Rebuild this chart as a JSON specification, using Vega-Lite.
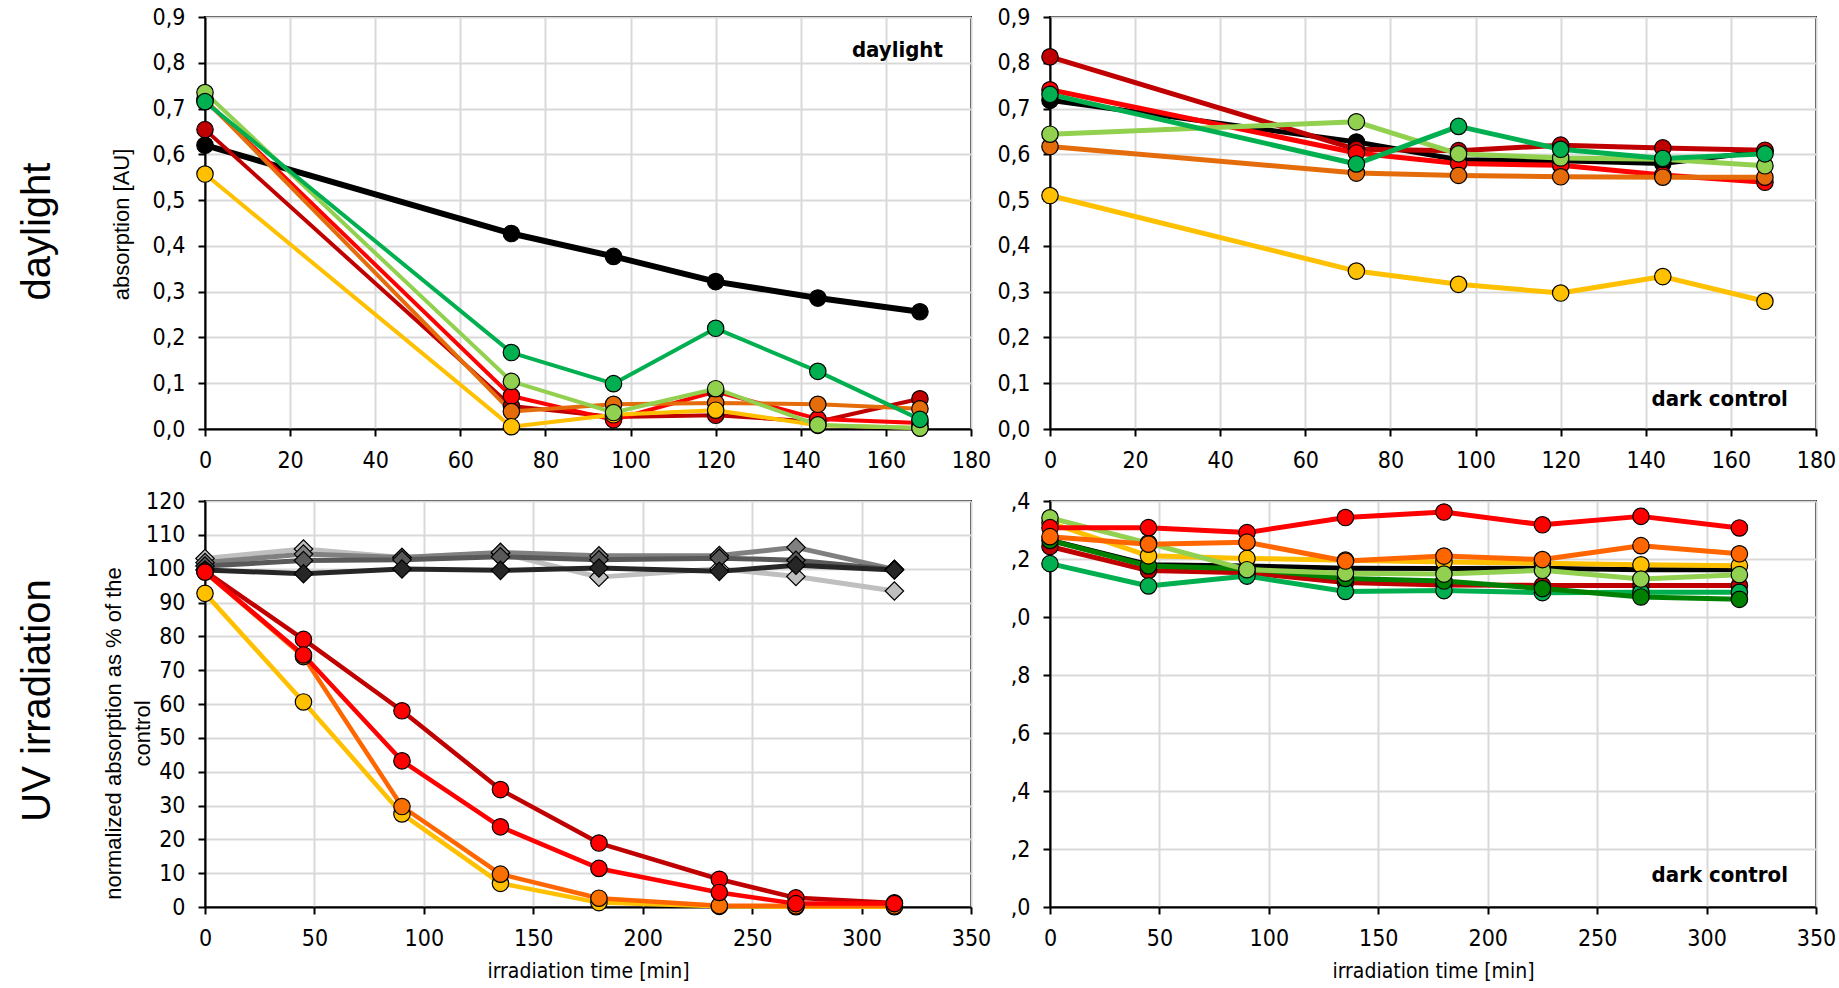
{
  "$schema": "https://vega.github.io/schema/vega-lite/v6.json",
  "background": "white",
  "padding": {"left": 15, "top": 5, "right": 5, "bottom": 5},
  "bounds": "flush",
  "align": "each",
  "columns": 2,
  "spacing": {"row": 72, "column": 79},
  "resolve": {"scale": {"color": "independent", "fill": "independent", "stroke": "independent", "strokeWidth": "independent"}},
  "config": {
    "view": {"stroke": "black", "strokeWidth": 2},
    "axis": {
      "labelFont": "DejaVu Sans Condensed, sans-serif",
      "labelFontSize": 23,
      "labelColor": "black",
      "labelPadding": 13,
      "labelOverlap": false,
      "labelFlush": false,
      "titleFont": "Liberation Sans, Arial, sans-serif",
      "titleFontWeight": "normal",
      "titleColor": "black",
      "domainColor": "black",
      "domainWidth": 2,
      "tickColor": "black",
      "tickWidth": 2,
      "tickSize": 7,
      "gridColor": "#D9D9D9",
      "gridWidth": 2
    }
  },
  "datasets": {
    "tl": [
      {"s": "A", "t": 0, "v": 0.620}, {"s": "A", "t": 72, "v": 0.427}, {"s": "A", "t": 96, "v": 0.377}, {"s": "A", "t": 120, "v": 0.322}, {"s": "A", "t": 144, "v": 0.286}, {"s": "A", "t": 168, "v": 0.256},
      {"s": "B", "t": 0, "v": 0.654}, {"s": "B", "t": 72, "v": 0.050}, {"s": "B", "t": 96, "v": 0.026}, {"s": "B", "t": 120, "v": 0.030}, {"s": "B", "t": 144, "v": 0.016}, {"s": "B", "t": 168, "v": 0.066},
      {"s": "C", "t": 0, "v": 0.718}, {"s": "C", "t": 72, "v": 0.072}, {"s": "C", "t": 96, "v": 0.020}, {"s": "C", "t": 120, "v": 0.082}, {"s": "C", "t": 144, "v": 0.022}, {"s": "C", "t": 168, "v": 0.013},
      {"s": "D", "t": 0, "v": 0.720}, {"s": "D", "t": 72, "v": 0.038}, {"s": "D", "t": 96, "v": 0.054}, {"s": "D", "t": 120, "v": 0.057}, {"s": "D", "t": 144, "v": 0.054}, {"s": "D", "t": 168, "v": 0.044},
      {"s": "E", "t": 0, "v": 0.557}, {"s": "E", "t": 72, "v": 0.005}, {"s": "E", "t": 96, "v": 0.031}, {"s": "E", "t": 120, "v": 0.041}, {"s": "E", "t": 144, "v": 0.008}, {"s": "E", "t": 168, "v": 0.002},
      {"s": "F", "t": 0, "v": 0.735}, {"s": "F", "t": 72, "v": 0.104}, {"s": "F", "t": 96, "v": 0.036}, {"s": "F", "t": 120, "v": 0.088}, {"s": "F", "t": 144, "v": 0.009}, {"s": "F", "t": 168, "v": 0.002},
      {"s": "G", "t": 0, "v": 0.715}, {"s": "G", "t": 72, "v": 0.167}, {"s": "G", "t": 96, "v": 0.099}, {"s": "G", "t": 120, "v": 0.220}, {"s": "G", "t": 144, "v": 0.126}, {"s": "G", "t": 168, "v": 0.021}
    ],
    "tr": [
      {"s": "A", "t": 0, "v": 0.718}, {"s": "A", "t": 72, "v": 0.627}, {"s": "A", "t": 96, "v": 0.588}, {"s": "A", "t": 120, "v": 0.586}, {"s": "A", "t": 144, "v": 0.580}, {"s": "A", "t": 168, "v": 0.607},
      {"s": "B", "t": 0, "v": 0.813}, {"s": "B", "t": 72, "v": 0.611}, {"s": "B", "t": 96, "v": 0.608}, {"s": "B", "t": 120, "v": 0.620}, {"s": "B", "t": 144, "v": 0.614}, {"s": "B", "t": 168, "v": 0.609},
      {"s": "C", "t": 0, "v": 0.741}, {"s": "C", "t": 72, "v": 0.603}, {"s": "C", "t": 96, "v": 0.580}, {"s": "C", "t": 120, "v": 0.576}, {"s": "C", "t": 144, "v": 0.555}, {"s": "C", "t": 168, "v": 0.539},
      {"s": "D", "t": 0, "v": 0.617}, {"s": "D", "t": 72, "v": 0.559}, {"s": "D", "t": 96, "v": 0.554}, {"s": "D", "t": 120, "v": 0.551}, {"s": "D", "t": 144, "v": 0.550}, {"s": "D", "t": 168, "v": 0.550},
      {"s": "E", "t": 0, "v": 0.510}, {"s": "E", "t": 72, "v": 0.345}, {"s": "E", "t": 96, "v": 0.316}, {"s": "E", "t": 120, "v": 0.297}, {"s": "E", "t": 144, "v": 0.333}, {"s": "E", "t": 168, "v": 0.279},
      {"s": "F", "t": 0, "v": 0.644}, {"s": "F", "t": 72, "v": 0.671}, {"s": "F", "t": 96, "v": 0.601}, {"s": "F", "t": 120, "v": 0.592}, {"s": "F", "t": 144, "v": 0.589}, {"s": "F", "t": 168, "v": 0.575},
      {"s": "G", "t": 0, "v": 0.731}, {"s": "G", "t": 72, "v": 0.579}, {"s": "G", "t": 96, "v": 0.661}, {"s": "G", "t": 120, "v": 0.611}, {"s": "G", "t": 144, "v": 0.591}, {"s": "G", "t": 168, "v": 0.601}
    ],
    "blc": [
      {"s": "E", "t": 0, "v": 92.7}, {"s": "E", "t": 45, "v": 60.6}, {"s": "E", "t": 90, "v": 27.5}, {"s": "E", "t": 135, "v": 7.0}, {"s": "E", "t": 180, "v": 1.3}, {"s": "E", "t": 235, "v": 0.2}, {"s": "E", "t": 270, "v": 0.1}, {"s": "E", "t": 315, "v": 0.1},
      {"s": "D", "t": 0, "v": 99.0}, {"s": "D", "t": 45, "v": 74.0}, {"s": "D", "t": 90, "v": 29.7}, {"s": "D", "t": 135, "v": 9.7}, {"s": "D", "t": 180, "v": 2.6}, {"s": "D", "t": 235, "v": 0.4}, {"s": "D", "t": 270, "v": 0.3}, {"s": "D", "t": 315, "v": 0.3},
      {"s": "B", "t": 0, "v": 99.3}, {"s": "B", "t": 45, "v": 79.1}, {"s": "B", "t": 90, "v": 58.0}, {"s": "B", "t": 135, "v": 34.7}, {"s": "B", "t": 180, "v": 18.9}, {"s": "B", "t": 235, "v": 8.2}, {"s": "B", "t": 270, "v": 2.7}, {"s": "B", "t": 315, "v": 1.2},
      {"s": "C", "t": 0, "v": 99.0}, {"s": "C", "t": 45, "v": 74.5}, {"s": "C", "t": 90, "v": 43.2}, {"s": "C", "t": 135, "v": 23.7}, {"s": "C", "t": 180, "v": 11.4}, {"s": "C", "t": 235, "v": 4.3}, {"s": "C", "t": 270, "v": 1.0}, {"s": "C", "t": 315, "v": 1.0}
    ],
    "bld": [
      {"s": "K1", "t": 0, "v": 103.0}, {"s": "K1", "t": 45, "v": 105.8}, {"s": "K1", "t": 90, "v": 103.3}, {"s": "K1", "t": 135, "v": 104.6}, {"s": "K1", "t": 180, "v": 97.5}, {"s": "K1", "t": 235, "v": 100.0}, {"s": "K1", "t": 270, "v": 97.7}, {"s": "K1", "t": 315, "v": 93.4},
      {"s": "K2", "t": 0, "v": 101.8}, {"s": "K2", "t": 45, "v": 104.3}, {"s": "K2", "t": 90, "v": 103.3}, {"s": "K2", "t": 135, "v": 104.8}, {"s": "K2", "t": 180, "v": 103.8}, {"s": "K2", "t": 235, "v": 103.9}, {"s": "K2", "t": 270, "v": 106.3}, {"s": "K2", "t": 315, "v": 99.8},
      {"s": "K3", "t": 0, "v": 100.8}, {"s": "K3", "t": 45, "v": 102.4}, {"s": "K3", "t": 90, "v": 102.6}, {"s": "K3", "t": 135, "v": 103.5}, {"s": "K3", "t": 180, "v": 102.6}, {"s": "K3", "t": 235, "v": 103.1}, {"s": "K3", "t": 270, "v": 102.5}, {"s": "K3", "t": 315, "v": 99.7},
      {"s": "K4", "t": 0, "v": 99.6}, {"s": "K4", "t": 45, "v": 98.5}, {"s": "K4", "t": 90, "v": 99.9}, {"s": "K4", "t": 135, "v": 99.5}, {"s": "K4", "t": 180, "v": 100.2}, {"s": "K4", "t": 235, "v": 99.2}, {"s": "K4", "t": 270, "v": 101.0}, {"s": "K4", "t": 315, "v": 99.6}
    ],
    "br": [
      {"s": "A", "t": 0, "v": 1.265}, {"s": "A", "t": 45, "v": 1.180}, {"s": "A", "t": 90, "v": 1.176}, {"s": "A", "t": 135, "v": 1.168}, {"s": "A", "t": 180, "v": 1.167}, {"s": "A", "t": 225, "v": 1.168}, {"s": "A", "t": 270, "v": 1.163}, {"s": "A", "t": 315, "v": 1.163},
      {"s": "B", "t": 0, "v": 1.243}, {"s": "B", "t": 45, "v": 1.160}, {"s": "B", "t": 90, "v": 1.153}, {"s": "B", "t": 135, "v": 1.119}, {"s": "B", "t": 180, "v": 1.110}, {"s": "B", "t": 225, "v": 1.109}, {"s": "B", "t": 270, "v": 1.109}, {"s": "B", "t": 315, "v": 1.109},
      {"s": "G", "t": 0, "v": 1.184}, {"s": "G", "t": 45, "v": 1.107}, {"s": "G", "t": 90, "v": 1.141}, {"s": "G", "t": 135, "v": 1.088}, {"s": "G", "t": 180, "v": 1.091}, {"s": "G", "t": 225, "v": 1.084}, {"s": "G", "t": 270, "v": 1.085}, {"s": "G", "t": 315, "v": 1.085},
      {"s": "H", "t": 0, "v": 1.264}, {"s": "H", "t": 45, "v": 1.176}, {"s": "H", "t": 90, "v": 1.166}, {"s": "H", "t": 135, "v": 1.133}, {"s": "H", "t": 180, "v": 1.124}, {"s": "H", "t": 225, "v": 1.098}, {"s": "H", "t": 270, "v": 1.069}, {"s": "H", "t": 315, "v": 1.061},
      {"s": "E", "t": 0, "v": 1.325}, {"s": "E", "t": 45, "v": 1.211}, {"s": "E", "t": 90, "v": 1.202}, {"s": "E", "t": 135, "v": 1.196}, {"s": "E", "t": 180, "v": 1.190}, {"s": "E", "t": 225, "v": 1.185}, {"s": "E", "t": 270, "v": 1.180}, {"s": "E", "t": 315, "v": 1.177},
      {"s": "F", "t": 0, "v": 1.342}, {"s": "F", "t": 45, "v": 1.255}, {"s": "F", "t": 90, "v": 1.163}, {"s": "F", "t": 135, "v": 1.151}, {"s": "F", "t": 180, "v": 1.148}, {"s": "F", "t": 225, "v": 1.161}, {"s": "F", "t": 270, "v": 1.131}, {"s": "F", "t": 315, "v": 1.146},
      {"s": "C", "t": 0, "v": 1.308}, {"s": "C", "t": 45, "v": 1.308}, {"s": "C", "t": 90, "v": 1.291}, {"s": "C", "t": 135, "v": 1.343}, {"s": "C", "t": 180, "v": 1.362}, {"s": "C", "t": 225, "v": 1.318}, {"s": "C", "t": 270, "v": 1.347}, {"s": "C", "t": 315, "v": 1.307},
      {"s": "D", "t": 0, "v": 1.277}, {"s": "D", "t": 45, "v": 1.251}, {"s": "D", "t": 90, "v": 1.258}, {"s": "D", "t": 135, "v": 1.193}, {"s": "D", "t": 180, "v": 1.210}, {"s": "D", "t": 225, "v": 1.198}, {"s": "D", "t": 270, "v": 1.246}, {"s": "D", "t": 315, "v": 1.218}
    ]
  },
  "concat": [
    {
      "width": 766,
      "height": 412,
      "resolve": {"scale": {"y": "independent"}},
      "layer": [
        {
          "data": {"name": "tl"},
          "encoding": {
            "x": {"field": "t", "type": "quantitative", "scale": {"domain": [0, 180], "nice": false},
              "axis": {"values": [0, 20, 40, 60, 80, 100, 120, 140, 160, 180], "title": null}},
            "y": {"field": "v", "type": "quantitative", "scale": {"domain": [0, 0.9], "nice": false},
              "axis": {"values": [0, 0.1, 0.2, 0.3, 0.4, 0.5, 0.6, 0.7, 0.8, 0.9], "labelExpr": "replace(format(datum.value, '.1f'), '.', ',')",
                "title": "absorption [AU]", "titleFontSize": 22, "titleX": -84, "titleY": 207, "titleBaseline": "middle"}}
          },
          "layer": [
            {
              "mark": {"type": "line", "strokeJoin": "round", "strokeCap": "round"},
              "encoding": {
                "color": {"field": "s", "type": "nominal", "legend": null,
                  "scale": {"domain": ["A", "B", "C", "D", "E", "F", "G"], "range": ["#000000", "#C00000", "#FF0000", "#E46C0A", "#FFC000", "#92D050", "#00B050"]}},
                "strokeWidth": {"condition": {"test": "datum.s === 'A'", "value": 6}, "value": 4}
              }
            },
            {
              "mark": {"type": "point", "shape": "circle", "filled": true, "opacity": 1, "stroke": "black", "strokeWidth": 1.2, "size": 270},
              "encoding": {
                "fill": {"field": "s", "type": "nominal", "legend": null,
                  "scale": {"domain": ["A", "B", "C", "D", "E", "F", "G"], "range": ["#000000", "#C00000", "#FF0000", "#E46C0A", "#FFC000", "#92D050", "#00B050"]}}
              }
            }
          ]
        },
        {
          "data": {"values": [{"label": "daylight"}]},
          "mark": {"type": "text", "font": "DejaVu Sans Condensed, sans-serif", "fontSize": 22, "fontWeight": "bold", "align": "right", "baseline": "middle", "color": "black"},
          "encoding": {
            "text": {"field": "label"},
            "x": {"datum": 173.4, "type": "quantitative"},
            "y": {"datum": 0.829, "type": "quantitative", "scale": {"domain": [0, 0.9], "nice": false},
              "axis": {"orient": "left", "labels": false, "ticks": false, "domain": false, "grid": false,
                "title": "daylight", "titleFontSize": 40, "titleX": -168, "titleY": 214, "titleBaseline": "middle"}}
          }
        }
      ]
    },
    {
      "width": 766,
      "height": 412,
      "layer": [
        {
          "data": {"name": "tr"},
          "encoding": {
            "x": {"field": "t", "type": "quantitative", "scale": {"domain": [0, 180], "nice": false},
              "axis": {"values": [0, 20, 40, 60, 80, 100, 120, 140, 160, 180], "title": null}},
            "y": {"field": "v", "type": "quantitative", "scale": {"domain": [0, 0.9], "nice": false},
              "axis": {"values": [0, 0.1, 0.2, 0.3, 0.4, 0.5, 0.6, 0.7, 0.8, 0.9], "labelExpr": "replace(format(datum.value, '.1f'), '.', ',')", "title": null}}
          },
          "layer": [
            {
              "mark": {"type": "line", "strokeJoin": "round", "strokeCap": "round", "strokeWidth": 5},
              "encoding": {
                "color": {"field": "s", "type": "nominal", "legend": null,
                  "scale": {"domain": ["A", "B", "C", "D", "E", "F", "G"], "range": ["#000000", "#C00000", "#FF0000", "#E46C0A", "#FFC000", "#92D050", "#00B050"]}}
              }
            },
            {
              "mark": {"type": "point", "shape": "circle", "filled": true, "opacity": 1, "stroke": "black", "strokeWidth": 1.2, "size": 270},
              "encoding": {
                "fill": {"field": "s", "type": "nominal", "legend": null,
                  "scale": {"domain": ["A", "B", "C", "D", "E", "F", "G"], "range": ["#000000", "#C00000", "#FF0000", "#E46C0A", "#FFC000", "#92D050", "#00B050"]}}
              }
            }
          ]
        },
        {
          "data": {"values": [{"label": "dark control"}]},
          "mark": {"type": "text", "font": "DejaVu Sans Condensed, sans-serif", "fontSize": 22, "fontWeight": "bold", "align": "right", "baseline": "middle", "color": "black"},
          "encoding": {
            "text": {"field": "label"},
            "x": {"datum": 173.4, "type": "quantitative"},
            "y": {"datum": 0.0655, "type": "quantitative"}
          }
        }
      ]
    },
    {
      "width": 766,
      "height": 406,
      "resolve": {"scale": {"y": "independent"}},
      "layer": [
        {
          "resolve": {"scale": {"color": "independent", "fill": "independent", "stroke": "independent"}},
          "encoding": {
            "x": {"field": "t", "type": "quantitative", "scale": {"domain": [0, 350], "nice": false},
              "axis": {"values": [0, 50, 100, 150, 200, 250, 300, 350], "title": "irradiation time [min]",
                "titleFont": "DejaVu Sans Condensed, sans-serif", "titleFontSize": 21, "titleY": 64, "titleBaseline": "middle"}},
            "y": {"field": "v", "type": "quantitative", "scale": {"domain": [0, 120], "nice": false},
              "axis": {"values": [0, 10, 20, 30, 40, 50, 60, 70, 80, 90, 100, 110, 120],
                "title": ["normalized absorption as % of the", "control"], "titleFontSize": 22, "titleLineHeight": 29,
                "titleX": -92, "titleY": 232, "titleBaseline": "middle"}}
          },
          "layer": [
            {
              "data": {"name": "bld"},
              "mark": {"type": "line", "strokeJoin": "round", "strokeCap": "round", "strokeWidth": 5},
              "encoding": {
                "color": {"field": "s", "type": "nominal", "legend": null,
                  "scale": {"domain": ["K1", "K2", "K3", "K4"], "range": ["#BFBFBF", "#808080", "#595959", "#262626"]}}
              }
            },
            {
              "data": {"name": "bld"},
              "mark": {"type": "point", "shape": "diamond", "filled": true, "opacity": 1, "stroke": "black", "strokeWidth": 1.2, "size": 340},
              "encoding": {
                "fill": {"field": "s", "type": "nominal", "legend": null,
                  "scale": {"domain": ["K1", "K2", "K3", "K4"], "range": ["#BFBFBF", "#808080", "#595959", "#262626"]}}
              }
            },
            {
              "data": {"name": "blc"},
              "mark": {"type": "line", "strokeJoin": "round", "strokeCap": "round", "strokeWidth": 4.5},
              "encoding": {
                "stroke": {"field": "s", "type": "nominal", "legend": null,
                  "scale": {"domain": ["E", "D", "B", "C"], "range": ["#FFC000", "#FF6600", "#C00000", "#FF0000"]}}
              }
            },
            {
              "data": {"name": "blc"},
              "mark": {"type": "point", "shape": "circle", "filled": true, "opacity": 1, "stroke": "black", "strokeWidth": 1.2, "size": 270},
              "encoding": {
                "fill": {"field": "s", "type": "nominal", "legend": null,
                  "scale": {"domain": ["E", "D", "B", "C"], "range": ["#FFC000", "#F77000", "#FF0000", "#FF0000"]}}
              }
            }
          ]
        },
        {
          "data": {"values": [{"label": "UV irradiation"}]},
          "mark": {"type": "text", "opacity": 0},
          "encoding": {
            "text": {"field": "label"},
            "x": {"datum": 300, "type": "quantitative"},
            "y": {"datum": 60, "type": "quantitative", "scale": {"domain": [0, 120], "nice": false},
              "axis": {"orient": "left", "labels": false, "ticks": false, "domain": false, "grid": false,
                "title": "UV irradiation", "titleFontSize": 40, "titleX": -168, "titleY": 199, "titleBaseline": "middle"}}
          }
        }
      ]
    },
    {
      "width": 766,
      "height": 406,
      "layer": [
        {
          "data": {"name": "br"},
          "encoding": {
            "x": {"field": "t", "type": "quantitative", "scale": {"domain": [0, 350], "nice": false},
              "axis": {"values": [0, 50, 100, 150, 200, 250, 300, 350], "title": "irradiation time [min]",
                "titleFont": "DejaVu Sans Condensed, sans-serif", "titleFontSize": 21, "titleY": 64, "titleBaseline": "middle"}},
            "y": {"field": "v", "type": "quantitative", "scale": {"domain": [0, 1.4], "nice": false},
              "axis": {"values": [0, 0.2, 0.4, 0.6, 0.8, 1, 1.2, 1.4], "labelExpr": "substring(replace(format(datum.value, '.1f'), '.', ','), 1)", "title": null}}
          },
          "layer": [
            {
              "mark": {"type": "line", "strokeJoin": "round", "strokeCap": "round", "strokeWidth": 5},
              "encoding": {
                "color": {"field": "s", "type": "nominal", "legend": null,
                  "scale": {"domain": ["A", "B", "G", "H", "E", "F", "C", "D"], "range": ["#000000", "#C00000", "#00B050", "#008000", "#FFC000", "#92D050", "#FF0000", "#FF6600"]}}
              }
            },
            {
              "transform": [{"filter": "datum.s !== 'A'"}],
              "mark": {"type": "point", "shape": "circle", "filled": true, "opacity": 1, "stroke": "black", "strokeWidth": 1.2, "size": 270},
              "encoding": {
                "fill": {"field": "s", "type": "nominal", "legend": null,
                  "scale": {"domain": ["A", "B", "G", "H", "E", "F", "C", "D"], "range": ["#000000", "#C00000", "#00B050", "#008000", "#FFC000", "#92D050", "#FF0000", "#FF6600"]}}
              }
            }
          ]
        },
        {
          "data": {"values": [{"label": "dark control"}]},
          "mark": {"type": "text", "font": "DejaVu Sans Condensed, sans-serif", "fontSize": 22, "fontWeight": "bold", "align": "right", "baseline": "middle", "color": "black"},
          "encoding": {
            "text": {"field": "label"},
            "x": {"datum": 337.2, "type": "quantitative"},
            "y": {"datum": 0.11, "type": "quantitative"}
          }
        }
      ]
    }
  ]
}
